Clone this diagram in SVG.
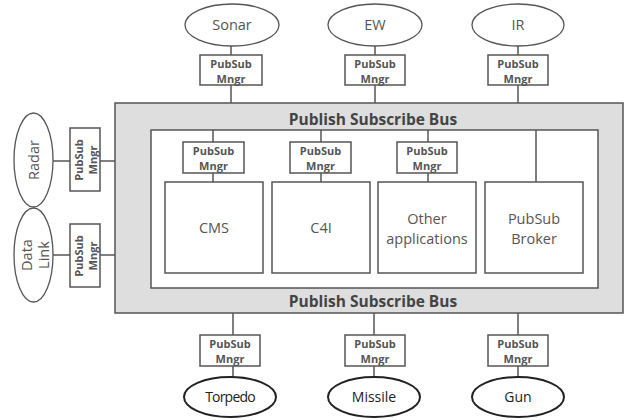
<svg xmlns="http://www.w3.org/2000/svg" width="627" height="420" viewBox="0 0 627 420">
<style>
.ln{stroke:#555;stroke-width:1.5;fill:none}
.box{fill:#fff;stroke:#555;stroke-width:1.5}
.ell{fill:#fff;stroke:#555;stroke-width:1.3}
.ellb{fill:#fff;stroke:#222;stroke-width:2}
.lbl{font-family:"Open Sans","Noto Sans",sans-serif;font-size:14.5px;fill:#555;text-anchor:middle}
.lblb{font-family:"Open Sans","Noto Sans",sans-serif;font-size:14px;fill:#222;text-anchor:middle;letter-spacing:-0.8px}
.mg{font-family:"Open Sans","Noto Sans",sans-serif;font-size:11px;font-weight:bold;fill:#555;text-anchor:middle}
.bus{font-family:"Open Sans","Noto Sans",sans-serif;font-size:15.5px;font-weight:bold;fill:#444;text-anchor:middle}
</style>
<g id="bus">
<rect x="115" y="103" width="508" height="210" fill="#dedede" stroke="#555" stroke-width="1.5"/>
<rect x="151" y="130" width="447" height="158" fill="#fff" stroke="#555" stroke-width="1.5"/>
<text class="bus" x="373" y="125">Publish Subscribe Bus</text>
<text class="bus" x="373" y="307">Publish Subscribe Bus</text>
</g>
<g id="connectors">
<line class="ln" x1="231" y1="46" x2="231" y2="103"/>
<line class="ln" x1="375" y1="46" x2="375" y2="103"/>
<line class="ln" x1="518" y1="46" x2="518" y2="103"/>
<line class="ln" x1="53" y1="161" x2="115" y2="161"/>
<line class="ln" x1="53" y1="255" x2="115" y2="255"/>
<line class="ln" x1="213" y1="130" x2="213" y2="182"/>
<line class="ln" x1="321" y1="130" x2="321" y2="182"/>
<line class="ln" x1="428" y1="130" x2="428" y2="182"/>
<line class="ln" x1="536" y1="130" x2="536" y2="182"/>
<line class="ln" x1="233" y1="313" x2="233" y2="377"/>
<line class="ln" x1="374" y1="313" x2="374" y2="377"/>
<line class="ln" x1="518" y1="313" x2="518" y2="377"/>
</g>
<g id="sonar"><ellipse class="ell" cx="232" cy="25" rx="47" ry="21"/><text class="lbl" x="232" y="30">Sonar</text></g>
<g id="ew"><ellipse class="ell" cx="375" cy="25" rx="47" ry="21"/><text class="lbl" x="375" y="30">EW</text></g>
<g id="ir"><ellipse class="ell" cx="518" cy="25" rx="46" ry="21"/><text class="lbl" x="518" y="30">IR</text></g>
<g id="mngr-sonar"><rect class="box" x="200" y="55" width="62" height="30"/><text class="mg" x="231" y="68">PubSub</text><text class="mg" x="231" y="83">Mngr</text></g>
<g id="mngr-ew"><rect class="box" x="345" y="55" width="60" height="30"/><text class="mg" x="375" y="68">PubSub</text><text class="mg" x="375" y="83">Mngr</text></g>
<g id="mngr-ir"><rect class="box" x="488" y="55" width="60" height="30"/><text class="mg" x="518" y="68">PubSub</text><text class="mg" x="518" y="83">Mngr</text></g>
<g id="radar"><ellipse class="ell" cx="33.5" cy="160" rx="19.5" ry="47"/><text class="lbl" transform="translate(38.5,160) rotate(-90)" x="0" y="0">Radar</text></g>
<g id="datalink"><ellipse class="ell" cx="33.5" cy="255" rx="19.5" ry="47"/><text class="lbl" transform="translate(33.5,255) rotate(-90)"><tspan x="0" y="-2">Data</tspan><tspan x="0" y="15">Link</tspan></text></g>
<g id="mngr-radar"><rect class="box" x="70" y="128" width="30" height="63"/><text class="mg" transform="translate(85,160) rotate(-90)"><tspan x="0" y="-2">PubSub</tspan><tspan x="0" y="12">Mngr</tspan></text></g>
<g id="mngr-datalink"><rect class="box" x="70" y="224" width="30" height="63"/><text class="mg" transform="translate(85,256) rotate(-90)"><tspan x="0" y="-2">PubSub</tspan><tspan x="0" y="12">Mngr</tspan></text></g>
<g id="mngr-cms"><rect class="box" x="183" y="142" width="61" height="31"/><text class="mg" x="213.5" y="155">PubSub</text><text class="mg" x="213.5" y="170">Mngr</text></g>
<g id="mngr-c4i"><rect class="box" x="290" y="142" width="61" height="31"/><text class="mg" x="320.5" y="155">PubSub</text><text class="mg" x="320.5" y="170">Mngr</text></g>
<g id="mngr-other"><rect class="box" x="397" y="142" width="60" height="31"/><text class="mg" x="427" y="155">PubSub</text><text class="mg" x="427" y="170">Mngr</text></g>
<g id="cms"><rect class="box" x="165" y="182" width="98" height="91"/><text class="lbl" x="214" y="233">CMS</text></g>
<g id="c4i"><rect class="box" x="272" y="182" width="98" height="91"/><text class="lbl" x="321" y="233">C4I</text></g>
<g id="other"><rect class="box" x="378" y="182" width="98" height="91"/><text class="lbl" x="427" y="224">Other</text><text class="lbl" x="427" y="244">applications</text></g>
<g id="broker"><rect class="box" x="485" y="182" width="98" height="91"/><text class="lbl" x="534" y="224">PubSub</text><text class="lbl" x="534" y="244">Broker</text></g>
<g id="mngr-torpedo"><rect class="box" x="200" y="335" width="60" height="31"/><text class="mg" x="230" y="348">PubSub</text><text class="mg" x="230" y="363">Mngr</text></g>
<g id="mngr-missile"><rect class="box" x="345" y="335" width="60" height="31"/><text class="mg" x="375" y="348">PubSub</text><text class="mg" x="375" y="363">Mngr</text></g>
<g id="mngr-gun"><rect class="box" x="488" y="335" width="60" height="31"/><text class="mg" x="518" y="348">PubSub</text><text class="mg" x="518" y="363">Mngr</text></g>
<g id="torpedo"><ellipse class="ellb" cx="230" cy="397" rx="46" ry="20"/><text class="lblb" x="230" y="402">Torpedo</text></g>
<g id="missile"><ellipse class="ellb" cx="374" cy="397" rx="46" ry="20"/><text class="lblb" x="374" y="402" style="letter-spacing:0">Missile</text></g>
<g id="gun"><ellipse class="ellb" cx="518" cy="397" rx="46" ry="20"/><text class="lblb" x="518" y="402" style="letter-spacing:0">Gun</text></g>
</svg>
